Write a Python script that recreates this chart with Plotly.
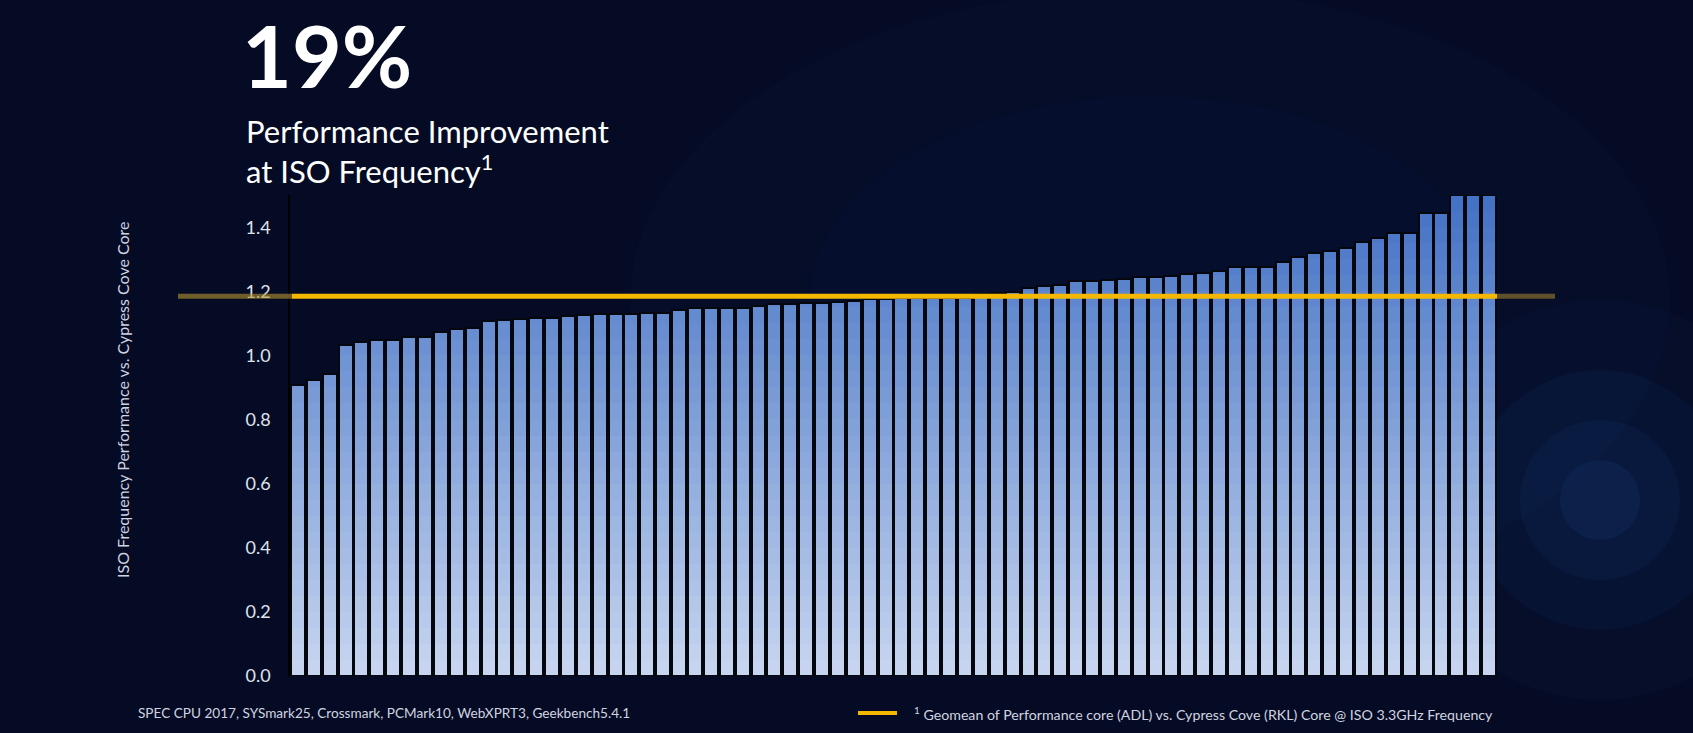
import plotly.graph_objects as go
import numpy as np

values = [0.908, 0.925, 0.944,
          1.034, 1.045, 1.049, 1.049, 1.060, 1.060, 1.074, 1.084, 1.088, 1.109,
          1.113, 1.116, 1.120, 1.120, 1.124, 1.128, 1.130, 1.130, 1.132, 1.133,
          1.135, 1.144, 1.149, 1.149, 1.149, 1.151, 1.157, 1.163, 1.163, 1.165, 1.167,
          1.168, 1.172, 1.177, 1.177, 1.180, 1.180, 1.180, 1.180, 1.181, 1.195,
          1.197, 1.199, 1.211, 1.219, 1.222, 1.233, 1.234, 1.238, 1.239, 1.246,
          1.246, 1.250, 1.256, 1.258, 1.267, 1.277, 1.277, 1.277, 1.294, 1.308,
          1.321, 1.329, 1.336, 1.355, 1.370, 1.383,
          1.383, 1.446, 1.446, 1.503, 1.503, 1.503]
geomean = 1.187
y_ticks = [0.0, 0.2, 0.4, 0.6, 0.8, 1.0, 1.2, 1.4]
y_tick_labels = ["0.0", "0.2", "0.4", "0.6", "0.8", "1.0", "1.2", "1.4"]
title_big = "19%"
subtitle = "Performance Improvement<br>at ISO Frequency<sup>1</sup>"
y_title = "ISO Frequency Performance vs. Cypress Cove Core"
footer_left = "SPEC CPU 2017, SYSmark25, Crossmark, PCMark10, WebXPRT3, Geekbench5.4.1"
footer_right = "<sup>1</sup> Geomean of Performance core (ADL) vs. Cypress Cove (RKL) Core @ ISO 3.3GHz Frequency"

x = list(range(len(values)))
vals = np.array(values)
ymax = 1.503
nseg = 30
d = ymax / nseg
top_c = np.array([66, 112, 196])
bot_c = np.array([200, 214, 240])

fig = go.Figure()
for k in range(nseg):
    lo, hi = k * d, (k + 1) * d
    seg = np.clip(vals, lo, hi) - lo
    t = (k + 0.5) / nseg
    c = bot_c + (top_c - bot_c) * t
    fig.add_trace(go.Bar(x=x, y=seg, marker=dict(color=f"rgb({c[0]:.0f},{c[1]:.0f},{c[2]:.0f})", line=dict(width=0)),
                         hoverinfo="skip", showlegend=False))
fig.add_trace(go.Bar(x=x, y=values, marker=dict(color="rgba(0,0,0,0)", line=dict(color="#05070f", width=2)),
                     showlegend=False, xaxis="x2", yaxis="y2"))

fig.update_layout(
    width=1693, height=733,
    barmode="stack", bargap=0.12,
    paper_bgcolor="#050b24", plot_bgcolor="rgba(0,0,0,0)",
    margin=dict(l=290, r=196, t=195, b=57),
    showlegend=False,
    xaxis=dict(range=[-0.5, len(values) - 0.5], showticklabels=False, showgrid=False, zeroline=False, ticks=""),
    xaxis2=dict(range=[-0.5, len(values) - 0.5], overlaying="x", visible=False),
    yaxis=dict(range=[0, ymax], tickvals=y_ticks, ticktext=y_tick_labels, showgrid=False, zeroline=False,
               showline=True, linecolor="#000000", linewidth=1.5,
               tickfont=dict(family="Lato", size=18, color="#dfe3ee"), ticks="", ticklabelstandoff=14),
    yaxis2=dict(range=[0, ymax], overlaying="y", visible=False),
    font=dict(family="Lato"),
)

px = lambda X: (X - 290) / 1207
py = lambda Y: (676 - Y) / 481

# background glow
for r, op in [(200, 0.04), (130, 0.05), (80, 0.07), (40, 0.09)]:
    fig.add_shape(type="circle", xref="paper", yref="paper", layer="below",
                  x0=px(1600 - r), x1=px(1600 + r), y0=py(500 + r), y1=py(500 - r),
                  fillcolor="#2a6fd6", opacity=op, line=dict(width=0))
for r, op in [(520, 0.035), (340, 0.04)]:
    fig.add_shape(type="circle", xref="paper", yref="paper", layer="below",
                  x0=px(1150 - r), x1=px(1150 + r), y0=py(300 + r * 0.6), y1=py(300 - r * 0.6),
                  fillcolor="#1a4fb0", opacity=op, line=dict(width=0))

# geomean line
fig.add_shape(type="line", xref="paper", yref="y", x0=px(178), x1=px(292), y0=geomean, y1=geomean,
              line=dict(color="#b8952e", width=5), opacity=0.6)
fig.add_shape(type="line", xref="paper", yref="y", x0=px(292), x1=px(1497), y0=geomean, y1=geomean,
              line=dict(color="#f5b800", width=5))
fig.add_shape(type="line", xref="paper", yref="y", x0=px(1497), x1=px(1555), y0=geomean, y1=geomean,
              line=dict(color="#b8952e", width=5), opacity=0.5)

ann = []
ann.append(dict(text=f"<b>{title_big}</b>", x=px(240), y=py(108), xanchor="left", yanchor="bottom",
                font=dict(family="Lato", size=86, color="white")))
ann.append(dict(text=subtitle, x=px(244), y=py(192), xanchor="left", yanchor="bottom", align="left",
                font=dict(family="Lato", size=31, color="white")))
ann.append(dict(text=y_title, x=px(122), y=py(400),
                xanchor="center", yanchor="middle", textangle=-90,
                font=dict(family="Lato", size=16, color="#d0d4e0")))
ann.append(dict(text=footer_left, x=px(136), y=py(713), xanchor="left", yanchor="middle",
                font=dict(family="Lato", size=13.6, color="#d0d4e0")))
ann.append(dict(text=footer_right, x=px(912), y=py(713), xanchor="left", yanchor="middle",
                font=dict(family="Lato", size=14.2, color="#d0d4e0")))
for a in ann:
    a.update(xref="paper", yref="paper", showarrow=False)
fig.update_layout(annotations=ann)
fig.add_shape(type="line", xref="paper", yref="paper", x0=px(858), x1=px(897), y0=py(713),
              y1=py(713), line=dict(color="#f5b800", width=4))

fig.write_html("out.html", config={"displayModeBar": False})
with open("out.html") as f:
    html = f.read()
html = html.replace("<body>", '<body style="margin:0;background:#050b24">', 1)
with open("out.html", "w") as f:
    f.write(html)
